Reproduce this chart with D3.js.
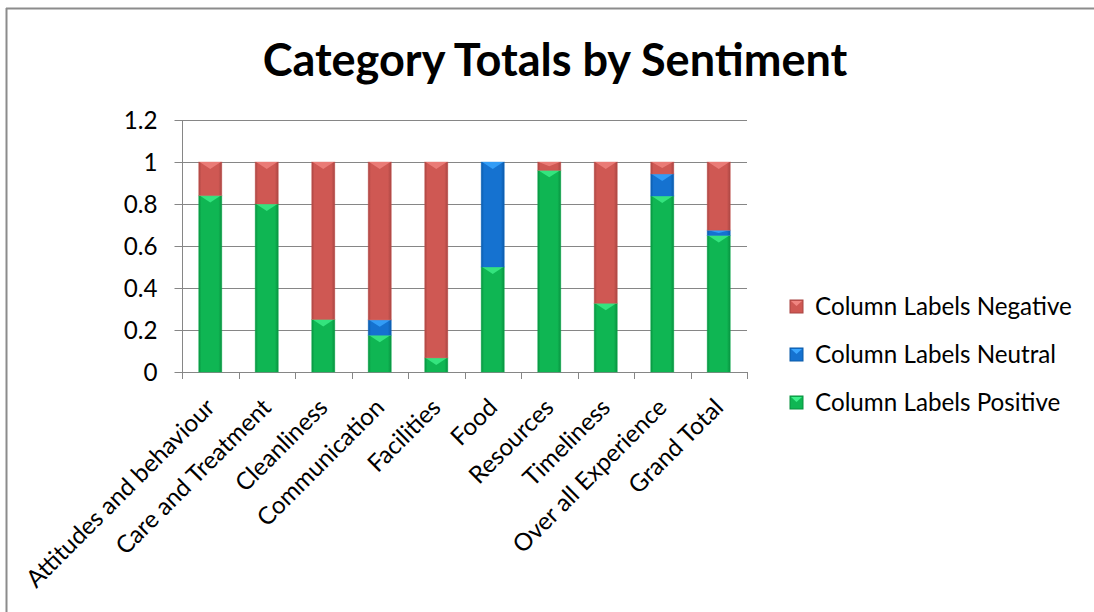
<!DOCTYPE html>
<html><head><meta charset="utf-8">
<script src="https://cdn.jsdelivr.net/npm/d3@7"></script>
<style>body{margin:0;background:#fff}svg{display:block}text{font-family:Lato,"Open Sans",sans-serif;fill:#000}</style>
</head><body><svg id="c" width="1094" height="612"></svg>
<script>
const categories = ["Attitudes and behaviour","Care and Treatment","Cleanliness","Communication","Facilities","Food","Resources","Timeliness","Over all Experience","Grand Total"];
const positive = [0.84,0.80,0.25,0.175,0.067,0.50,0.96,0.327,0.838,0.65];
const neutral  = [0,0,0,0.073,0,0.50,0,0,0.105,0.025];
const negative = [0.16,0.20,0.75,0.752,0.933,0,0.04,0.673,0.057,0.325];
const seriesNames = ["Column Labels Positive","Column Labels Neutral","Column Labels Negative"];
const yTicks = [0,0.2,0.4,0.6,0.8,1,1.2];
const title = "Category Totals by Sentiment";

const svg = d3.select("#c");
const colors = {"Column Labels Positive":["#08913f","#0fb653","#3df08a"],
                "Column Labels Neutral":["#0b5aa8","#1572d0","#3aa6ff"],
                "Column Labels Negative":["#a84542","#cf5853","#f08580"]};
const defs = svg.append("defs");
seriesNames.forEach((s,i)=>{
  const g = defs.append("linearGradient").attr("id","g"+i).attr("x1",0).attr("x2",1).attr("y1",0).attr("y2",0);
  const c = colors[s];
  [[0,c[0]],[0.12,c[1]],[0.5,c[1]],[0.85,c[1]],[1,c[0]]].forEach(([o,col])=>g.append("stop").attr("offset",o).attr("stop-color",col));
});

// border
svg.append("line").attr("x1",6).attr("x2",1094).attr("y1",8.5).attr("y2",8.5).attr("stroke","#8c8c8c").attr("stroke-width",2);
svg.append("line").attr("x1",6.5).attr("x2",6.5).attr("y1",8).attr("y2",612).attr("stroke","#8c8c8c").attr("stroke-width",2);

const x = d3.scaleBand().domain(categories).range([182,747]).paddingInner(0.59).paddingOuter(0.295);
const y = d3.scaleLinear().domain([0,1.2]).range([372,120]);

function fit(str, weight, target){
  const t = svg.append("text").attr("font-size",100).attr("font-weight",weight).text(str);
  const w = t.node().getComputedTextLength(); t.remove();
  return 100*target/w;
}
const fsTitle = fit(title,"bold",585);
const fsBody = fit("Column Labels Negative","normal",257);

// gridlines
svg.append("g").selectAll("line").data(yTicks.filter(d=>d>0)).join("line")
  .attr("x1",182).attr("x2",747).attr("y1",d=>Math.round(y(d))+0.5).attr("y2",d=>Math.round(y(d))+0.5)
  .attr("stroke","#868686").attr("stroke-width",1);

// y axis
const ya = svg.append("g").attr("transform","translate(182.5,0)").call(d3.axisLeft(y).tickValues(yTicks).tickSize(8).tickPadding(17).tickFormat(d3.format("")));
ya.select(".domain").attr("stroke","#868686").attr("d","M0,120V372");
ya.selectAll(".tick line").attr("stroke","#868686");
ya.selectAll(".tick text").attr("font-size",fsBody).attr("font-family","Lato").attr("dy","0.36em");

// x axis line + ticks at band boundaries
svg.append("line").attr("x1",182).attr("x2",747).attr("y1",372.5).attr("y2",372.5).attr("stroke","#868686");
const bounds = d3.range(categories.length+1).map(i=>182+i*x.step());
svg.append("g").selectAll("line").data(bounds).join("line")
  .attr("x1",d=>Math.round(d)+0.5).attr("x2",d=>Math.round(d)+0.5).attr("y1",372).attr("y2",379).attr("stroke","#868686");

// stacked bars
const rows = categories.map((c,i)=>({cat:c,"Column Labels Positive":positive[i],"Column Labels Neutral":neutral[i],"Column Labels Negative":negative[i]}));
const stack = d3.stack().keys(seriesNames)(rows);
stack.forEach((layer,si)=>{
  const g = svg.append("g");
  layer.forEach(d=>{
    const h = y(d[0])-y(d[1]);
    if(h<=0.5) return;
    const bx = x(d.data.cat), bw = x.bandwidth(), by = y(d[1]);
    g.append("rect").attr("x",bx).attr("y",by).attr("width",bw).attr("height",h)
      .attr("fill",`url(#g${si})`).attr("stroke",colors[seriesNames[si]][1]).attr("stroke-opacity",0.35).attr("stroke-width",1);
    const th = Math.min(bw*0.3, h/2);
    g.append("path").attr("d",`M${bx+1},${by}L${bx+bw-1},${by}L${bx+bw/2},${by+th}Z`).attr("fill",colors[seriesNames[si]][2]).attr("opacity",0.8);
  });
});

// x labels
svg.append("g").selectAll("text").data(categories).join("text")
  .attr("transform",d=>`translate(${x(d)+x.bandwidth()/2-6},${397}) rotate(-45)`)
  .attr("text-anchor","end").attr("dy","0.7em").attr("font-size",fsBody).text(d=>d);

// title
svg.append("text").attr("x",555).attr("y",76).attr("text-anchor","middle").attr("font-weight","bold")
  .attr("font-size",fsTitle).text(title);

// legend
const legendOrder = ["Column Labels Negative","Column Labels Neutral","Column Labels Positive"];
const lg = svg.append("g").selectAll("g").data(legendOrder).join("g").attr("transform",(d,i)=>`translate(790,${307+i*48})`);
lg.append("rect").attr("x",0).attr("y",-7).attr("width",13).attr("height",13).attr("fill",d=>colors[d][1]).attr("stroke",d=>colors[d][0]).attr("stroke-width",1);
lg.append("path").attr("d","M1,-6L12,-6L6.5,-1Z").attr("fill",d=>colors[d][2]);
lg.append("text").attr("x",25).attr("y",0).attr("dy","0.35em").attr("font-size",fsBody).text(d=>d);
</script></body></html>
